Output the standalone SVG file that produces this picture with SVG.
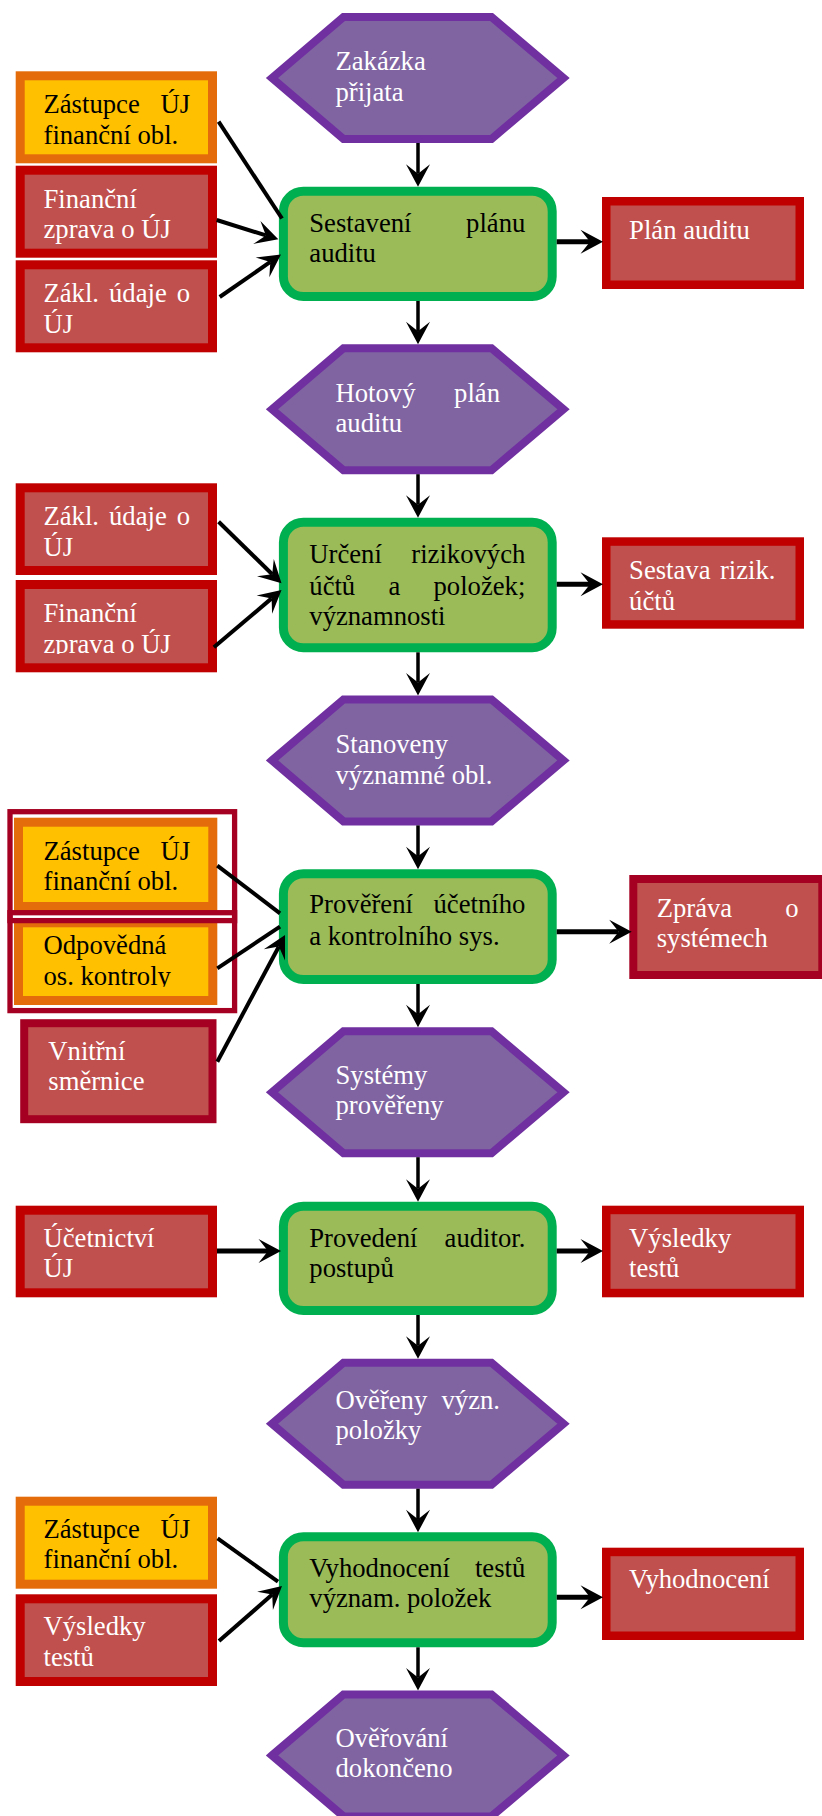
<svg xmlns="http://www.w3.org/2000/svg" width="822" height="1816" viewBox="0 0 822 1816">
<style>
text{font-family:"Liberation Serif","Times New Roman",serif;font-size:26.67px}
.w{fill:#FFFFFF}
.b{fill:#000000}
.e{text-anchor:end}
.hex{fill:#8064A2;stroke:#7030A0;stroke-width:8;stroke-linejoin:miter}
.grn{fill:#9BBB59;stroke:#00B050;stroke-width:9}
.red{fill:#C0504D;stroke:#C00000;stroke-width:9}
.redr{fill:#C0504D;stroke:#C00000;stroke-width:8.5}
.org{fill:#FFC000;stroke:#E46C0A;stroke-width:9}
.dred{fill:#C0504D;stroke:#A50021;stroke-width:8}
.frame{fill:none;stroke:#A50021;stroke-width:5.3}
.c{fill:none;stroke:#000;stroke-width:4}
.cv{fill:none;stroke:#000;stroke-width:3.5;marker-end:url(#ah)}
.ch{fill:none;stroke:#000;stroke-width:5;marker-end:url(#ah)}
.cd{fill:none;stroke:#000;stroke-width:4;marker-end:url(#ah)}
</style>
<defs>
<marker id="ah" viewBox="-23 -13 24 26" refX="-13" refY="0" markerWidth="24" markerHeight="26" markerUnits="userSpaceOnUse" orient="auto">
<path d="M0,0 L-22.5,-12 L-13,0 L-22.5,12 Z" fill="#000"/>
</marker>
<clipPath id="clipB2"><rect x="0" y="560" width="240" height="94"/></clipPath>
<clipPath id="clipC2"><rect x="0" y="920" width="240" height="66.7"/></clipPath>
</defs>
<rect x="0" y="0" width="822" height="1816" fill="#FFFFFF"/>

<!-- Row 1 -->
<g id="hex1">
<polygon class="hex" points="272,78 343.5,17 491.5,17 563.5,78 491.5,139 343.5,139"/>
<text class="w" x="335.5" y="70">Zakázka</text>
<text class="w" x="335.5" y="100.7">přijata</text>
</g>
<g id="a1">
<rect class="org" x="20.2" y="75.8" width="192.3" height="83"/>
<text class="b" x="43.5" y="113.3">Zástupce</text><text class="b e" x="190" y="113.3">ÚJ</text>
<text class="b" x="43.5" y="143.8">finanční obl.</text>
</g>
<g id="a2">
<rect class="red" x="20.2" y="170.2" width="192.3" height="83"/>
<text class="w" x="43.5" y="207.7">Finanční</text>
<text class="w" x="43.5" y="238.2">zprava o ÚJ</text>
</g>
<g id="a3">
<rect class="red" x="20.2" y="264.8" width="192.3" height="83"/>
<text class="w" x="43.5" y="302.3">Zákl.</text><text class="w" x="109" y="302.3">údaje</text><text class="w e" x="190" y="302.3">o</text>
<text class="w" x="43.5" y="332.8">ÚJ</text>
</g>
<g id="g1">
<rect class="grn" x="283.4" y="191.2" width="268.8" height="105.3" rx="20" ry="20"/>
<text class="b" x="309.3" y="231.7">Sestavení</text><text class="b e" x="525.3" y="231.7">plánu</text>
<text class="b" x="309.3" y="262.4">auditu</text>
</g>
<g id="r1">
<rect class="redr" x="606.25" y="201.25" width="193.5" height="83.5"/>
<text class="w" x="629.1" y="239">Plán auditu</text>
</g>

<!-- Row 2 -->
<g id="hex2">
<polygon class="hex" points="272,409.2 343.5,348.2 491.5,348.2 563.5,409.2 491.5,470.2 343.5,470.2"/>
<text class="w" x="335.5" y="401.7">Hotový</text><text class="w e" x="500" y="401.7">plán</text>
<text class="w" x="335.5" y="432.3">auditu</text>
</g>
<g id="b1">
<rect class="red" x="20.2" y="487.8" width="192.3" height="82.7"/>
<text class="w" x="43.5" y="525.3">Zákl.</text><text class="w" x="109" y="525.3">údaje</text><text class="w e" x="190" y="525.3">o</text>
<text class="w" x="43.5" y="555.8">ÚJ</text>
</g>
<g id="b2">
<rect class="red" x="20.2" y="584.5" width="192.3" height="83.3"/>
<g clip-path="url(#clipB2)">
<text class="w" x="43.5" y="622">Finanční</text>
<text class="w" x="43.5" y="652.5">zprava o ÚJ</text>
</g>
</g>
<g id="g2">
<rect class="grn" x="283.4" y="522.2" width="268.8" height="125.6" rx="20" ry="20"/>
<text class="b" x="309.3" y="563.3">Určení</text><text class="b e" x="525.3" y="563.3">rizikových</text>
<text class="b" x="309.3" y="594.5">účtů</text><text class="b" x="388.4" y="594.5">a</text><text class="b e" x="525.3" y="594.5">položek;</text>
<text class="b" x="309.3" y="625">významnosti</text>
</g>
<g id="r2">
<rect class="redr" x="606.25" y="541.55" width="193.5" height="82.9"/>
<text class="w" x="629.1" y="579.3">Sestava</text><text class="w e" x="775.5" y="579.3">rizik.</text>
<text class="w" x="629.1" y="609.8">účtů</text>
</g>

<!-- Row 3 -->
<g id="hex3">
<polygon class="hex" points="272,760.4 343.5,699.4 491.5,699.4 563.5,760.4 491.5,821.4 343.5,821.4"/>
<text class="w" x="335.5" y="753.3">Stanoveny</text>
<text class="w" x="335.5" y="783.8">významné obl.</text>
</g>
<g id="c1">
<rect class="org" x="18.5" y="822.2" width="194.3" height="84.3"/>
<text class="b" x="43.5" y="860">Zástupce</text><text class="b e" x="190" y="860">ÚJ</text>
<text class="b" x="43.5" y="889.5">finanční obl.</text>
</g>
<g id="c2">
<rect class="org" x="18.5" y="922.8" width="194.3" height="77.7"/>
<g clip-path="url(#clipC2)">
<text class="b" x="43.5" y="954.3">Odpovědná</text>
<text class="b" x="43.5" y="984.5">os. kontroly</text>
</g>
</g>
<g id="frame1">
<rect class="frame" x="10" y="811.7" width="224.6" height="108.9"/>
</g>
<g id="frame2">
<rect class="frame" x="10" y="912.7" width="224.6" height="97.9"/>
</g>
<g id="vn">
<rect class="dred" x="24.2" y="1023.2" width="188.3" height="96"/>
<text class="w" x="48.3" y="1060">Vnitřní</text>
<text class="w" x="48.3" y="1090.3">směrnice</text>
</g>
<g id="g3">
<rect class="grn" x="283.4" y="873.8" width="268.8" height="105.7" rx="20" ry="20"/>
<text class="b" x="309.3" y="913.3">Prověření</text><text class="b e" x="525.3" y="913.3">účetního</text>
<text class="b" x="309.3" y="944.5">a kontrolního sys.</text>
</g>
<g id="r3">
<rect class="dred" x="633.3" y="879" width="189" height="96"/>
<text class="w" x="656.7" y="916.7">Zpráva</text><text class="w e" x="798.5" y="916.7">o</text>
<text class="w" x="656.7" y="947.3">systémech</text>
</g>

<!-- Row 4 -->
<g id="hex4">
<polygon class="hex" points="272,1092.2 343.5,1031.2 491.5,1031.2 563.5,1092.2 491.5,1153.2 343.5,1153.2"/>
<text class="w" x="335.5" y="1083.8">Systémy</text>
<text class="w" x="335.5" y="1114.3">prověřeny</text>
</g>
<g id="d1">
<rect class="red" x="20.2" y="1210.2" width="192.3" height="82.6"/>
<text class="w" x="43.5" y="1246.5">Účetnictví</text>
<text class="w" x="43.5" y="1277">ÚJ</text>
</g>
<g id="g4">
<rect class="grn" x="283.4" y="1206.2" width="268.8" height="104.3" rx="20" ry="20"/>
<text class="b" x="309.3" y="1246.7">Provedení</text><text class="b e" x="525.3" y="1246.7">auditor.</text>
<text class="b" x="309.3" y="1277.3">postupů</text>
</g>
<g id="r4">
<rect class="redr" x="606.25" y="1209.95" width="193.5" height="83.1"/>
<text class="w" x="629.1" y="1246.5">Výsledky</text>
<text class="w" x="629.1" y="1277">testů</text>
</g>

<!-- Row 5 -->
<g id="hex5">
<polygon class="hex" points="272,1423.7 343.5,1362.7 491.5,1362.7 563.5,1423.7 491.5,1484.7 343.5,1484.7"/>
<text class="w" x="335.5" y="1408.8">Ověřeny</text><text class="w e" x="500" y="1408.8">význ.</text>
<text class="w" x="335.5" y="1439.3">položky</text>
</g>
<g id="e1">
<rect class="org" x="20.2" y="1501.2" width="192.3" height="83"/>
<text class="b" x="43.5" y="1537.5">Zástupce</text><text class="b e" x="190" y="1537.5">ÚJ</text>
<text class="b" x="43.5" y="1567.5">finanční obl.</text>
</g>
<g id="e2">
<rect class="red" x="20.2" y="1598.8" width="192.3" height="82.7"/>
<text class="w" x="43.5" y="1635.3">Výsledky</text>
<text class="w" x="43.5" y="1665.5">testů</text>
</g>
<g id="g5">
<rect class="grn" x="283.4" y="1536.8" width="268.8" height="106" rx="20" ry="20"/>
<text class="b" x="309.3" y="1576.7">Vyhodnocení</text><text class="b e" x="525.3" y="1576.7">testů</text>
<text class="b" x="309.3" y="1607.3">význam. položek</text>
</g>
<g id="r5">
<rect class="redr" x="606.25" y="1551.95" width="193.5" height="83.8"/>
<text class="w" x="629.1" y="1588.3">Vyhodnocení</text>
</g>
<g id="hex6">
<polygon class="hex" points="272,1755.4 343.5,1694.4 491.5,1694.4 563.5,1755.4 491.5,1816.4 343.5,1816.4"/>
<text class="w" x="335.5" y="1746.7">Ověřování</text>
<text class="w" x="335.5" y="1777.3">dokončeno</text>
</g>

<g id="connectors">
<!-- vertical -->
<line class="cv" x1="418" y1="143" x2="418" y2="173.7"/>
<line class="cv" x1="418" y1="301" x2="418" y2="331.2"/>
<line class="cv" x1="418" y1="474.2" x2="418" y2="504.7"/>
<line class="cv" x1="418" y1="652.3" x2="418" y2="682.4"/>
<line class="cv" x1="418" y1="825.4" x2="418" y2="856.3"/>
<line class="cv" x1="418" y1="984" x2="418" y2="1014.2"/>
<line class="cv" x1="418" y1="1157.2" x2="418" y2="1188.7"/>
<line class="cv" x1="418" y1="1315" x2="418" y2="1345.7"/>
<line class="cv" x1="418" y1="1488.7" x2="418" y2="1519.3"/>
<line class="cv" x1="418" y1="1647.3" x2="418" y2="1677.4"/>
<!-- right outputs -->
<line class="ch" x1="556.7" y1="241.7" x2="590" y2="241.7"/>
<line class="ch" x1="556.7" y1="584.3" x2="590" y2="584.3"/>
<line class="ch" x1="556.7" y1="931.7" x2="618.7" y2="931.7"/>
<line class="ch" x1="556.7" y1="1251" x2="590" y2="1251"/>
<line class="ch" x1="556.7" y1="1597.3" x2="590" y2="1597.3"/>
<!-- left inputs -->
<line class="c" x1="218.6" y1="121.7" x2="282" y2="218.5"/>
<line class="cd" x1="216.7" y1="220" x2="265.9" y2="235.4"/>
<line class="cd" x1="219.7" y1="297" x2="270.3" y2="261.9"/>
<line class="cd" x1="218.6" y1="521.7" x2="272.2" y2="574.2"/>
<line class="cd" x1="213.9" y1="647.3" x2="271.6" y2="598.4"/>
<line class="c" x1="217.3" y1="865.7" x2="280" y2="913.3"/>
<line class="c" x1="217.3" y1="968.3" x2="280" y2="926.7"/>
<line class="cd" x1="217.3" y1="1061.7" x2="278.9" y2="946.5"/>
<line class="ch" x1="217" y1="1251" x2="268" y2="1251"/>
<line class="c" x1="217.6" y1="1538.3" x2="278" y2="1581.7"/>
<line class="cd" x1="219" y1="1641" x2="272.2" y2="1594.6"/>
</g>
</svg>
